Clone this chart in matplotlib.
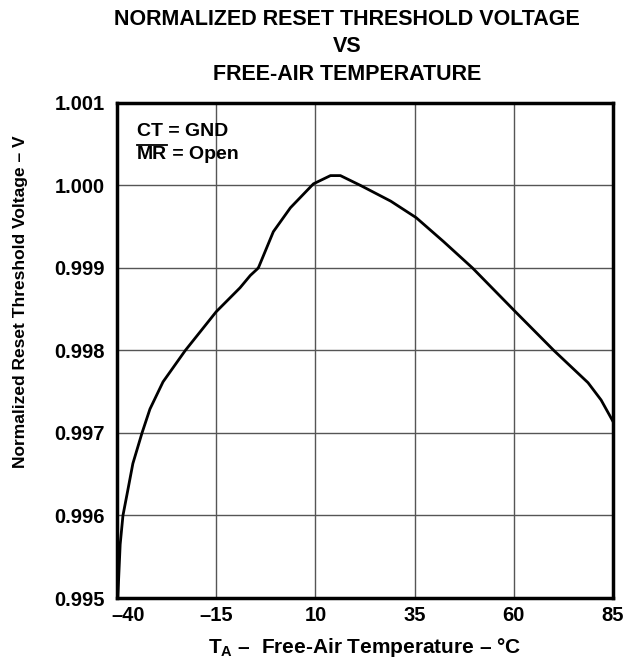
import matplotlib
matplotlib.use('Agg')
import matplotlib.pyplot as plt
from matplotlib.lines import Line2D
from matplotlib.transforms import ScaledTranslation

plt.rcParams['font.family'] = ['Liberation Sans', 'DejaVu Sans']
plt.rcParams['font.weight'] = 'bold'
plt.rcParams['mathtext.fontset'] = 'custom'
plt.rcParams['mathtext.bf'] = 'Liberation Sans:bold'
plt.rcParams['mathtext.rm'] = 'Liberation Sans:bold'

# curve
temp_c = [-39.8, -39.2, -38.5, -37.5, -36.0, -33.7, -31.7, -28.4, -22.8, -15.0,
          -9.0, -6.4, -4.6, -4.3, -0.6, 3.7, 9.5, 13.8, 16.3, 21.4, 29.0,
          35.4, 42.3, 49.6, 60.4, 70.1, 78.7, 82.0, 85.0]
v_norm = [0.99500, 0.99565, 0.99600, 0.99625, 0.99663, 0.99700, 0.99729, 0.99762,
          0.99800, 0.99847, 0.99876, 0.99891, 0.99899, 0.99901, 0.99944, 0.99973,
          1.00002, 1.00012, 1.00012, 1.00000, 0.99981, 0.99961, 0.99932, 0.99900,
          0.99847, 0.99800, 0.99761, 0.99740, 0.99714]

x_ticks = [-40, -15, 10, 35, 60, 85]
x_ticklabels = ['\u201340', '\u201315', '10', '35', '60', '85']
y_ticks = [0.995, 0.996, 0.997, 0.998, 0.999, 1.000, 1.001]
y_ticklabels = ['0.995', '0.996', '0.997', '0.998', '0.999', '1.000', '1.001']
title_lines = ['NORMALIZED RESET THRESHOLD VOLTAGE', 'VS', 'FREE-AIR TEMPERATURE']

W, H = 626, 660
fig = plt.figure(figsize=(W / 100, H / 100), dpi=100)
ax = fig.add_axes([117/W, 1 - 598/H, 496/W, 495/H])

ax.plot(temp_c, v_norm, color='black', lw=2)

ax.set_xlim(-40, 85)
ax.set_ylim(0.995, 1.001)
ax.set_xticks(x_ticks)
ax.set_xticklabels(x_ticklabels, fontsize=14.5, fontweight='bold')
ax.set_yticks(y_ticks)
ax.set_yticklabels(y_ticklabels, fontsize=14.5, fontweight='bold')
ax.tick_params(length=0)
ax.tick_params(axis='y', pad=9)
ax.tick_params(axis='x', pad=6)
# first x label sits a bit to the right in the original
lab0 = ax.get_xticklabels()[0]
lab0.set_transform(lab0.get_transform() + ScaledTranslation(11/100, 0, fig.dpi_scale_trans))
ax.grid(True, color='#555555', lw=1)
for s in ax.spines.values():
    s.set_linewidth(2.5)

for i, line in enumerate(title_lines):
    fig.text(347/W, 1 - (25 + 27.5 * i)/H, line, ha='center', va='baseline',
             fontsize=15.5, fontweight='bold')

fig.text(365/W, 1 - 653/H, 'T$_\\mathbf{A}$ \u2013  Free-Air Temperature \u2013 \u00b0C',
         ha='center', va='baseline', fontsize=15, fontweight='bold')
fig.text(21/W, 1 - 302/H, 'Normalized Reset Threshold Voltage \u2013 V', rotation=90,
         ha='center', va='center', fontsize=12.5, fontweight='bold')

ax.text(137/W, 1 - 136/H, 'CT = GND', transform=fig.transFigure, fontsize=14,
        fontweight='bold', va='baseline', ha='left')
mr = ax.text(137/W, 1 - 159/H, 'MR', transform=fig.transFigure, fontsize=14,
             fontweight='bold', va='baseline', ha='left')
fig.canvas.draw()
bb = mr.get_window_extent()
ax.annotate(' = Open', xy=(1, 0), xycoords=mr, va='bottom', ha='left',
            fontsize=14, fontweight='bold')
fig.add_artist(Line2D([bb.x0 / W, bb.x1 / W], [(bb.y1 + 1.5) / H, (bb.y1 + 1.5) / H],
                      color='black', lw=1.3))

fig.savefig('out.png', dpi=100)
